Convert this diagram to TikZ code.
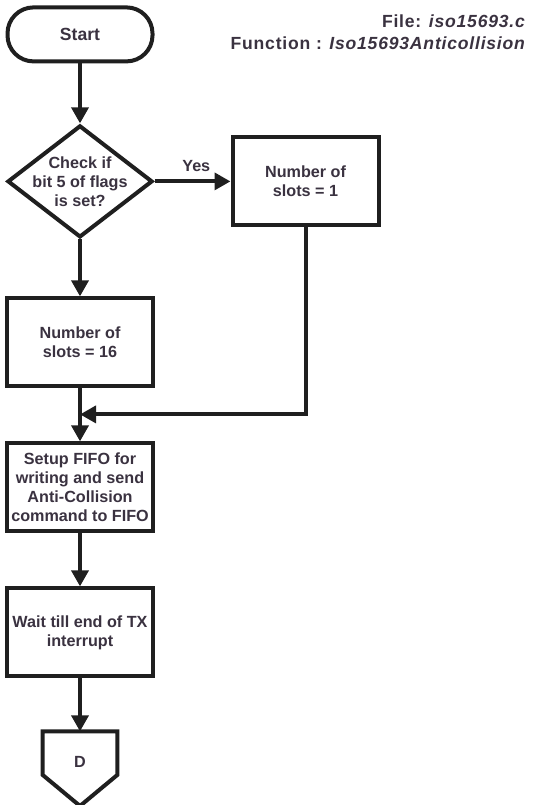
\documentclass[tikz,border=0pt]{standalone}
\usepackage{fontspec}
\setmainfont{Liberation Sans}
\usepackage{xcolor}
\usepackage{tikz}
\usetikzlibrary{positioning,arrows.meta,shapes.geometric}
\definecolor{flowLine}{HTML}{1F1F1F}
\definecolor{flowText}{HTML}{3A3240}

\begin{document}
\begin{tikzpicture}[
  node distance=13.25mm and 19mm,
  base/.style={
    draw=flowLine, line width=1mm, fill=white, text=flowText,
    font=\fontsize{11.5}{13.5}\selectfont\bfseries, align=center
  },
  term/.style={
    base, rectangle, rounded corners=6.5mm,
    font=\fontsize{12.5}{13.5}\selectfont\bfseries,
    minimum width=36.25mm, minimum height=13.5mm
  },
  proc/.style={
    base, rectangle, inner sep=1pt,
    minimum width=36.5mm, minimum height=22mm
  },
  dec/.style={
    base, diamond, inner sep=-5mm,
    minimum width=36.25mm, minimum height=28mm
  },
  lbl/.style={
    font=\fontsize{11.5}{13.5}\selectfont\bfseries, text=flowText, inner sep=0pt
  },
  arr/.style={-{Triangle[length=4mm,width=4.2mm]}, line width=1mm, flowLine},
]

\useasboundingbox (0,0) rectangle (134mm,-201.25mm);

% === Title ===
\node[lbl, anchor=north east, align=right, font=\fontsize{12.5}{15.6}\selectfont\bfseries]
  (title) at (131.5mm,-3.6mm)
  {\addfontfeatures{LetterSpace=4.5}File: \textit{iso15693.c}\\
   \addfontfeatures{LetterSpace=4.5}Function : \textit{Iso15693Anticollision}};

% === Main column ===
\node[term] (start) at (20mm,-8.6mm) {Start};
\node[dec, below=15mm of start] (check) {Check if\\bit 5 of flags\\is set?};
\node[proc, right=19mm of check] (one) {Number of\\slots = 1};
\node[proc, below=14.25mm of check] (sixteen) {Number of\\slots = 16};
\coordinate[below=6.5mm of sixteen] (merge);
\node[proc, below=of sixteen] (setup)
  {Setup FIFO for\\writing and send\\Anti-Collision\\command to FIFO};
\node[proc, below=of setup] (wait) {Wait till end of TX\\interrupt};

% === Off-page connector ===
\node[lbl, below=13.25mm of wait, minimum width=18.5mm, minimum height=15mm] (D) {D};
\draw[flowLine, line width=1mm, line join=miter]
  (D.north west) -- ([yshift=4.25mm]D.south west) -- ([yshift=-3.5mm]D.south)
  -- ([yshift=4.25mm]D.south east) -- (D.north east) -- cycle;

% === Arrows ===
\draw[arr] (start) -- (check);
\draw[arr] (check.east) -- (check.east -| one.west)
  node[lbl, pos=0.55, above=2mm] {Yes};
\draw[arr] (check) -- (sixteen);
\draw[arr] (one.south) |- (merge);
\draw[arr] (sixteen) -- (setup);
\draw[arr] (setup) -- (wait);
\draw[arr] (wait) -- (D);

\end{tikzpicture}
\end{document}
